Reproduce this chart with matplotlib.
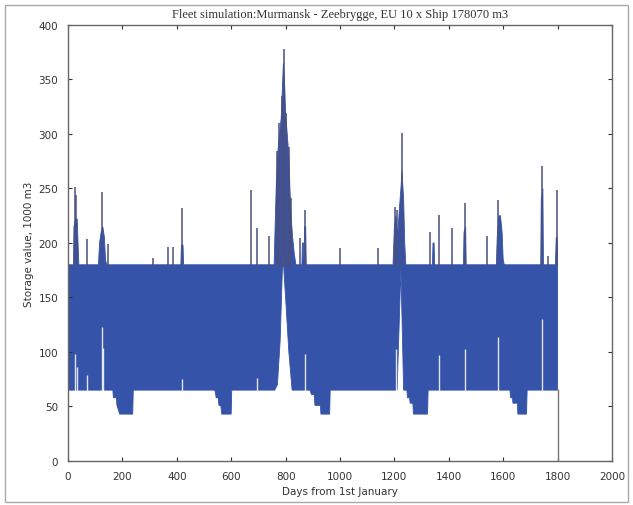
import matplotlib.pyplot as plt
import matplotlib.patches as patches

# envelope of the simulated storage curve (day, value)
upper_days = [1, 20, 22, 28, 34, 37, 40, 112, 116, 122, 128, 134, 138, 142,
              415, 417, 423, 425, 758, 762, 766, 772, 778, 784, 788, 792, 796,
              800, 806, 812, 816, 820, 826, 832, 838, 860, 862, 866, 868, 870,
              874, 876, 1195, 1200, 1206, 1212, 1218, 1224, 1228, 1234, 1238,
              1242, 1340, 1342, 1346, 1348, 1454, 1456, 1462, 1464, 1575, 1578,
              1584, 1590, 1596, 1600, 1604, 1738, 1740, 1746, 1748, 1792, 1795,
              1799, 1800]
upper_vals = [180, 180, 215, 222, 222, 200, 180, 180, 200, 210, 215, 205, 185, 180,
              180, 198, 198, 180, 180, 220, 255, 285, 300, 315, 340, 365, 350,
              320, 300, 280, 250, 225, 205, 190, 180, 180, 200, 200, 180, 215,
              215, 180, 180, 215, 225, 205, 230, 250, 266, 240, 200,
              180, 180, 200, 200, 180, 180, 210, 215, 180, 180, 205,
              225, 225, 210, 185, 180, 180, 240, 250, 180, 180, 205,
              205, 180]

lower_days = [1, 165, 167, 178, 180, 190, 238, 240, 540, 545, 552, 555, 562,
              565, 600, 602, 760, 770, 780, 790, 800, 812, 824, 890, 895, 905,
              908, 928, 930, 962, 964, 1210, 1224, 1234, 1246, 1248, 1256, 1258,
              1268, 1270, 1322, 1324, 1625, 1627, 1634, 1636, 1652, 1654, 1686,
              1688, 1800]
lower_vals = [65, 65, 58, 58, 51, 43, 43, 65, 65, 58, 58, 51, 51,
              43, 43, 65, 65, 70, 110, 190, 150, 100, 65, 65, 61, 61,
              51, 51, 43, 43, 65, 65, 176, 65, 65, 58, 58, 53,
              53, 43, 43, 65, 65, 58, 58, 53, 53, 43, 43,
              65, 65]

# thin peaks above the band
spike_days = [26, 29, 70, 125, 147, 312, 368, 386, 419, 673, 695, 739, 768, 776,
              787, 794, 801, 812, 820, 853, 871, 1000, 1140, 1202, 1210, 1228,
              1331, 1364, 1412, 1460, 1540, 1581, 1743, 1765, 1798]
spike_tops = [251, 244, 204, 247, 199, 186, 196, 196, 232, 249, 214, 206, 284, 310,
              335, 378, 319, 288, 241, 205, 230, 195, 195, 233, 230, 301,
              210, 226, 214, 237, 206, 239, 271, 188, 249]

# white gaps where the minimum level rises
gap_days = [26, 33, 70, 125, 129, 419, 695, 871, 1206, 1364, 1460, 1581, 1743]
gap_tops = [98, 86, 79, 123, 104, 75, 76, 98, 103, 97, 103, 114, 130]

blue = '#3553a8'

fig = plt.figure(figsize=(6.33, 5.06), dpi=100)
ax = fig.add_axes([0.1074, 0.087, 0.8594, 0.8617])

poly_x = upper_days + lower_days[::-1]
poly_y = upper_vals + lower_vals[::-1]
ax.fill(poly_x, poly_y, color=blue, lw=0.6, edgecolor=blue)
ax.vlines(spike_days, 178, spike_tops, color='#4a5080', lw=1.1)
ax.vlines(gap_days, 60, gap_tops, color='white', lw=1.0, alpha=0.85)
ax.vlines([1800], 0, 66, color='#777777', lw=1.0)

ax.set_xlim(0, 2000)
ax.set_ylim(0, 400)
ax.set_xticks(range(0, 2001, 200))
ax.set_yticks(range(0, 401, 50))
ax.tick_params(direction='in', top=True, right=True, length=3, labelsize=7.5,
               colors='#333333', pad=7)
for s in ax.spines.values():
    s.set_color('#666666')
    s.set_linewidth(1.0)

ax.set_xlabel('Days from 1st January', fontsize=7.5, color='#333333', labelpad=4)
ax.set_ylabel('Storage value, 1000 m3', fontsize=7.5, color='#333333', labelpad=3)
ax.set_title('Fleet simulation:Murmansk - Zeebrygge, EU 10 x Ship 178070 m3',
             fontsize=9, family='Liberation Serif', color='#333333', pad=6)

fig.patches.append(patches.Rectangle((0.008, 0.006), 0.984, 0.983,
                                     transform=fig.transFigure, fill=False,
                                     edgecolor='#aaaaaa', lw=1.0))

fig.savefig('out.png', dpi=100)
